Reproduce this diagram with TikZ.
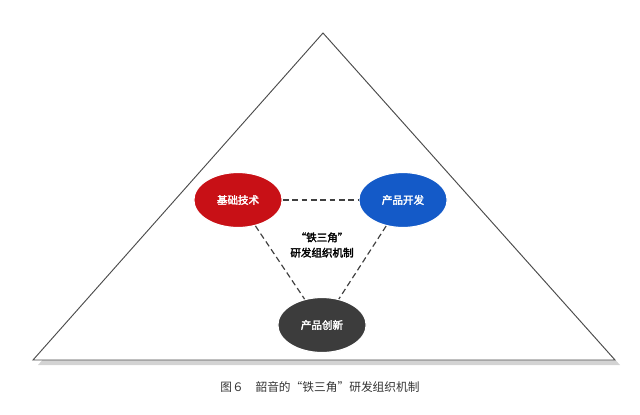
\documentclass[tikz,border=0pt]{standalone}
\usepackage{fontspec}
\setmainfont{Noto Sans CJK SC}
\newfontfamily\cjkbold[FakeBold=2.5]{Noto Sans CJK SC}
\usetikzlibrary{shapes.geometric, shadows, positioning}
\definecolor{basered}{RGB}{200,16,22}
\definecolor{devblue}{RGB}{20,90,200}
\definecolor{innogray}{RGB}{60,60,60}
\tikzset{
  corebox/.style={ellipse, minimum width=2.65cm, minimum height=1.65cm, text=white, font=\cjkbold\small, draw=white, line width=1pt},
  linkline/.style={dash pattern=on 5pt off 3pt, line width=1pt, draw=black!75}
}
\begin{document}
\begin{tikzpicture}[x=0.03cm, y=-0.03cm]
\useasboundingbox (0,0) rectangle (640,414);
% outer triangle
\draw[black!70, line width=0.8pt, fill=white, drop shadow={opacity=0.35, shadow xshift=0.15cm, shadow yshift=-0.15cm}]
  (323,33) -- (615,360) -- (33,360) -- cycle;
% three corners
\node[corebox, fill=basered] (base) at (238,200) {基础技术};
\node[corebox, fill=devblue] (dev) at (403,200) {产品开发};
\node[corebox, fill=innogray] (inno) at (322,325) {产品创新};
\draw[linkline] (base) -- (dev);
\draw[linkline] (base) -- (inno);
\draw[linkline] (dev) -- (inno);
\node[font=\cjkbold\small, align=center] (mech) at (322,245) {“铁三角”\\[2pt]研发组织机制};
% caption
\node[font=\normalsize, text=black!80] (cap) at (320,387) {图６\quad 韶音的“铁三角”研发组织机制};
\end{tikzpicture}
\end{document}
